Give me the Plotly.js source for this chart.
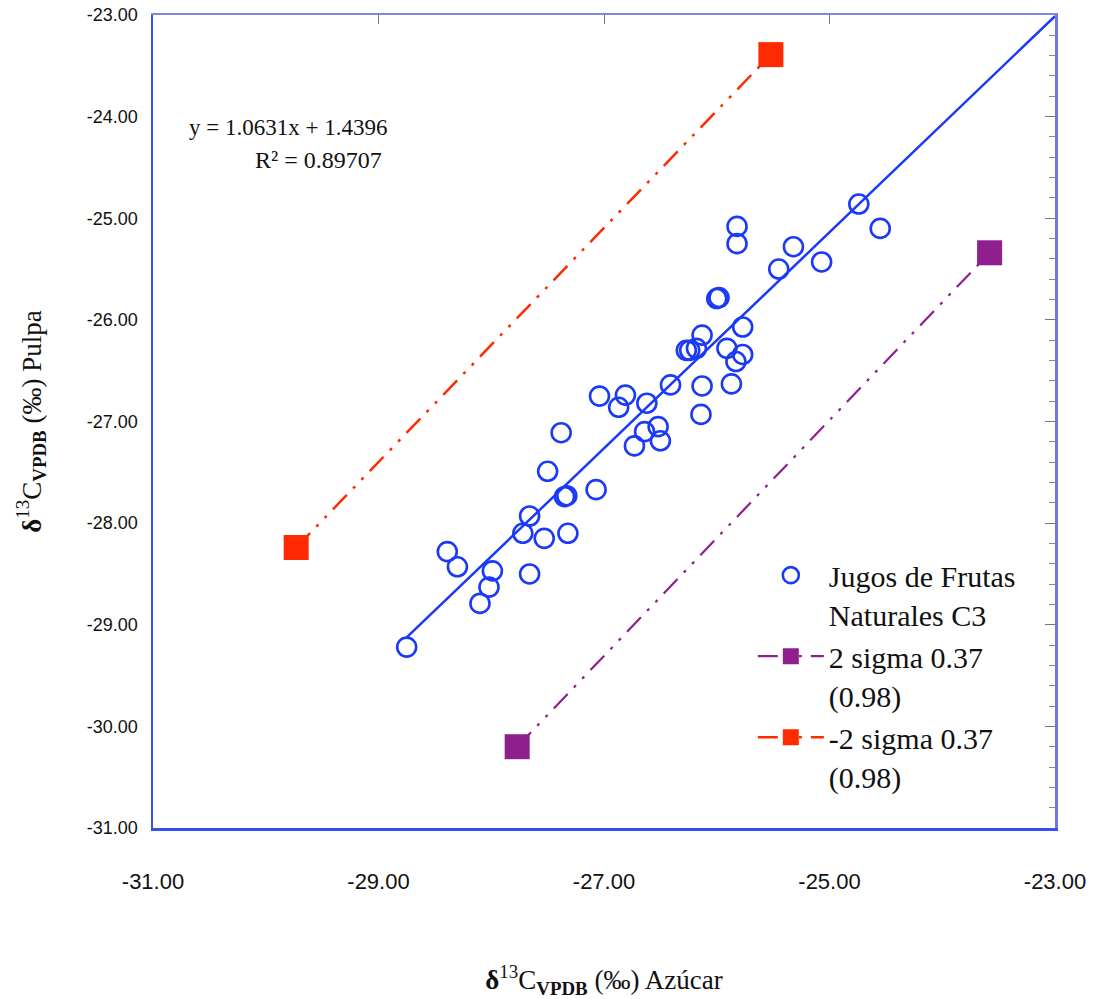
<!DOCTYPE html>
<html>
<head>
<meta charset="utf-8">
<script src="https://cdn.plot.ly/plotly-3.0.1.min.js"></script>
<style>html,body{margin:0;padding:0;background:#fff;}#chart{width:1094px;height:999px;}</style>
</head>
<body>
<div id="chart"></div>
<script>
// Jugos de Frutas Naturales C3: δ13C azúcar (x) vs δ13C pulpa (y)
const azucar = [-28.75,-28.39,-28.30,-27.99,-28.02,-28.10,-27.66,-27.72,-27.53,-27.66,
  -27.32,-27.35,-27.33,-27.07,-27.50,-27.38,-27.04,-26.87,-26.81,-26.62,
  -26.73,-26.64,-26.52,-26.50,-26.41,-26.27,-26.24,-26.18,-26.13,-26.13,
  -26.14,-26.00,-25.98,-25.91,-25.87,-25.83,-25.77,-25.77,-25.82,-25.82,
  -25.45,-25.32,-25.07,-24.74,-24.55];
const pulpa = [-29.22,-28.28,-28.43,-28.47,-28.63,-28.79,-27.93,-28.10,-28.15,-28.50,
  -28.10,-27.74,-27.73,-27.67,-27.49,-27.11,-26.75,-26.86,-26.74,-26.82,
  -27.24,-27.10,-27.05,-27.19,-26.64,-26.30,-26.30,-26.28,-26.15,-26.65,
  -26.93,-25.79,-25.78,-26.28,-26.63,-26.41,-26.34,-26.07,-25.08,-25.25,
  -25.50,-25.28,-25.43,-24.86,-25.10];

// Regression shown on chart
const slope = 1.0631;
const intercept = 1.4396;
const r2 = 0.89707;
const trendX = [-28.75, -23.0];

// Sigma limit lines
const sigmaPlusX = [-27.77, -23.58];
const sigmaPlusY = [-30.20, -25.34];
const sigmaMinusX = [-29.73, -25.52];
const sigmaMinusY = [-28.24, -23.39];

const xTicks = [-31, -29, -27, -25, -23];
const xTickText = ['-31.00', '-29.00', '-27.00', '-25.00', '-23.00'];
const yTicks = [-31, -30, -29, -28, -27, -26, -25, -24, -23];
const yTickText = ['-31.00', '-30.00', '-29.00', '-28.00', '-27.00', '-26.00', '-25.00', '-24.00', '-23.00'];

const serif = 'Liberation Serif, Times New Roman, serif';
const blue = '#1a3af7';

const traces = [
  {
    x: trendX, y: trendX.map(v => slope * v + intercept),
    mode: 'lines', line: {color: blue, width: 2.5},
    showlegend: false, hoverinfo: 'skip'
  },
  {
    x: azucar, y: pulpa, mode: 'markers',
    name: 'Jugos de Frutas<br>Naturales C3',
    marker: {symbol: 'circle-open', size: 19, color: blue, line: {width: 2.6, color: blue}}
  },
  {
    x: sigmaPlusX, y: sigmaPlusY, mode: 'lines+markers',
    name: '2 sigma 0.37<br>(0.98)',
    line: {color: '#8e1f8c', width: 2.2, dash: '20px,9px,3px,9px,3px,9px'},
    marker: {symbol: 'square', size: 25, color: '#8e1f8c'}
  },
  {
    x: sigmaMinusX, y: sigmaMinusY, mode: 'lines+markers',
    name: '-2 sigma 0.37<br>(0.98)',
    line: {color: '#ff2a00', width: 2.5, dash: '20px,9px,3px,9px,3px,9px'},
    marker: {symbol: 'square', size: 25, color: '#ff2a00'}
  },
  // invisible trace to bind the secondary (tick-only) axes
  {x: [-31], y: [-31], xaxis: 'x2', yaxis: 'y2', mode: 'markers',
   marker: {opacity: 0}, showlegend: false, hoverinfo: 'skip'}
];

const layout = {
  width: 1094, height: 999,
  margin: {l: 153, r: 39, t: 15, b: 171},
  paper_bgcolor: '#fff', plot_bgcolor: '#fff',
  showlegend: true,
  xaxis: {
    range: [-31, -23], tickvals: xTicks, ticktext: xTickText,
    showgrid: false, zeroline: false,
    showline: true, linecolor: '#3550f0', linewidth: 2.5,
    ticks: '', ticklabelstandoff: 32,
    tickfont: {family: 'Liberation Sans, Arial, sans-serif', size: 22, color: '#111'},
    title: {text: '<b>δ</b><sup>13</sup>C<sub><b>VPDB</b></sub> (‰) Azúcar',
            font: {family: serif, size: 27, color: '#111'}, standoff: 78}
  },
  yaxis: {
    range: [-31, -23], tickvals: yTicks, ticktext: yTickText,
    showgrid: false, zeroline: false,
    showline: true, linecolor: '#3550f0', linewidth: 2.5,
    ticks: '', ticklabelstandoff: 9,
    tickfont: {family: 'Liberation Sans, Arial, sans-serif', size: 18, color: '#111'},
    title: {text: '<b>δ</b><sup>13</sup>C<sub><b>VPDB</b></sub> (‰) Pulpa',
            font: {family: serif, size: 27, color: '#111'}, standoff: 38}
  },
  xaxis2: {
    overlaying: 'x', side: 'top', range: [-31, -23], dtick: 2, tick0: -31,
    showticklabels: false, showgrid: false, zeroline: false,
    showline: true, linecolor: '#8088dc', linewidth: 2.5,
    ticks: 'inside', ticklen: 9, tickwidth: 1, tickcolor: '#777'
  },
  yaxis2: {
    overlaying: 'y', side: 'right', range: [-31, -23], dtick: 1, tick0: -31,
    showticklabels: false, showgrid: false, zeroline: false,
    showline: true, linecolor: '#7078e0', linewidth: 2.5,
    ticks: 'inside', ticklen: 10, tickwidth: 1, tickcolor: '#777',
    minor: {dtick: 0.2, ticks: 'inside', ticklen: 6, tickwidth: 1, tickcolor: '#888'}
  },
  legend: {
    x: 0.665, xanchor: 'left', y: 0.343, yanchor: 'top',
    bgcolor: 'rgba(0,0,0,0)', borderwidth: 0, valign: 'top',
    itemwidth: 66,
    font: {family: serif, size: 30, color: '#111'},
    tracegroupgap: 0
  },
  annotations: [
    {xref: 'paper', yref: 'paper', x: (288 - 153) / 902, y: (828 - 127) / 813,
     text: 'y = ' + slope.toFixed(4) + 'x + ' + intercept.toFixed(4), showarrow: false,
     font: {family: serif, size: 23, color: '#111'}, xanchor: 'center', yanchor: 'middle'},
    {xref: 'paper', yref: 'paper', x: (318 - 153) / 902, y: (828 - 160) / 813,
     text: 'R² = ' + r2.toFixed(5), showarrow: false,
     font: {family: serif, size: 24, color: '#111'}, xanchor: 'center', yanchor: 'middle'}
  ]
};

Plotly.newPlot('chart', traces, layout, {displayModeBar: false, staticPlot: true});
</script>
</body>
</html>
